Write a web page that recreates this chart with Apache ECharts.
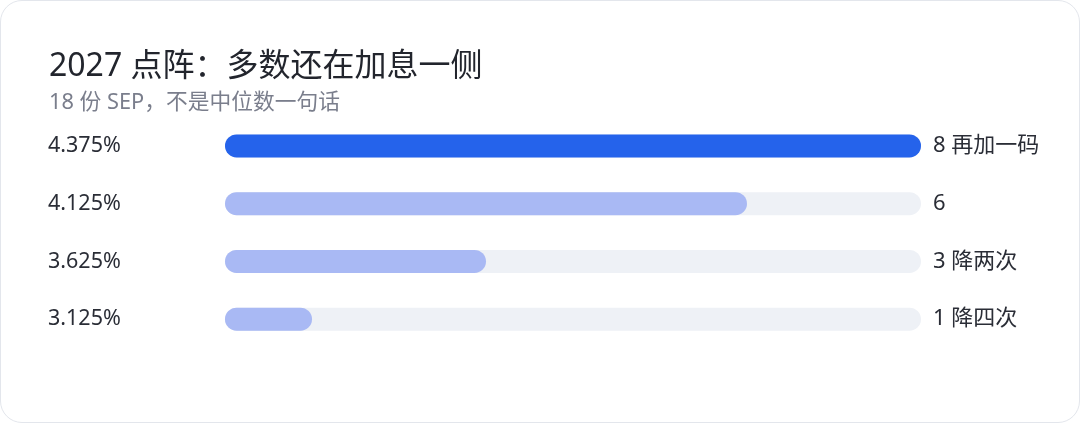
<!DOCTYPE html>
<html>
<head>
<meta charset="utf-8">
<script src="https://cdn.jsdelivr.net/npm/echarts@6/dist/echarts.min.js"></script>
<style>
  html, body { margin: 0; padding: 0; background: #fff; }
  #card {
    width: 1080px; height: 423px; box-sizing: border-box;
    border: 1.5px solid #E3E6EC; border-radius: 22px; background: #fff;
  }
  #chart { width: 100%; height: 100%; }
</style>
</head>
<body>
<div id="card"><div id="chart"></div></div>
<script>
var rates = ['4.375%', '4.125%', '3.625%', '3.125%']
var counts = [8, 6, 3, 1]
var notes = ['再加一码', '', '降两次', '降四次']
var totalDots = 8

var font = '"Noto Sans", "Noto Sans CJK SC", sans-serif'
var rightLabels = counts.map(function (c, i) { return notes[i] ? c + ' ' + notes[i] : String(c) })

var chart = echarts.init(document.getElementById('chart'))
var option = {
  animation: false,
  title: {
    text: '2027 点阵：多数还在加息一侧',
    subtext: '18 份 SEP，不是中位数一句话',
    left: 43, top: 45, itemGap: 9,
    textStyle: {fontFamily: font, fontSize: 32, fontWeight: 'normal', color: '#22252d'},
    subtextStyle: {fontFamily: font, fontSize: 21.75, color: '#7a7e8c'}
  },
  grid: {left: 224, right: 158, top: 116, height: 231},
  xAxis: {type: 'value', min: 0, max: totalDots, show: false},
  yAxis: [
    {type: 'category', inverse: true, data: rates, position: 'left',
      axisLine: {show: false}, axisTick: {show: false},
      axisLabel: {align: 'left', margin: 177, fontFamily: font, fontSize: 21.5, color: '#2a2d36'}},
    {type: 'category', inverse: true, data: rightLabels, position: 'right',
      axisLine: {show: false}, axisTick: {show: false},
      axisLabel: {align: 'left', margin: 12, fontFamily: font, fontSize: 22, color: '#2a2d36'}}
  ],
  series: [{
    type: 'bar', yAxisIndex: 0, barWidth: 23,
    showBackground: true,
    backgroundStyle: {color: '#EEF1F6', borderRadius: 12},
    itemStyle: {borderRadius: 12},
    data: counts.map(function (c, i) {
      return {value: c, itemStyle: {color: i === 0 ? '#2563EB' : '#A9B9F4'}}
    })
  }]
}
chart.setOption(option)
</script>
</body>
</html>
